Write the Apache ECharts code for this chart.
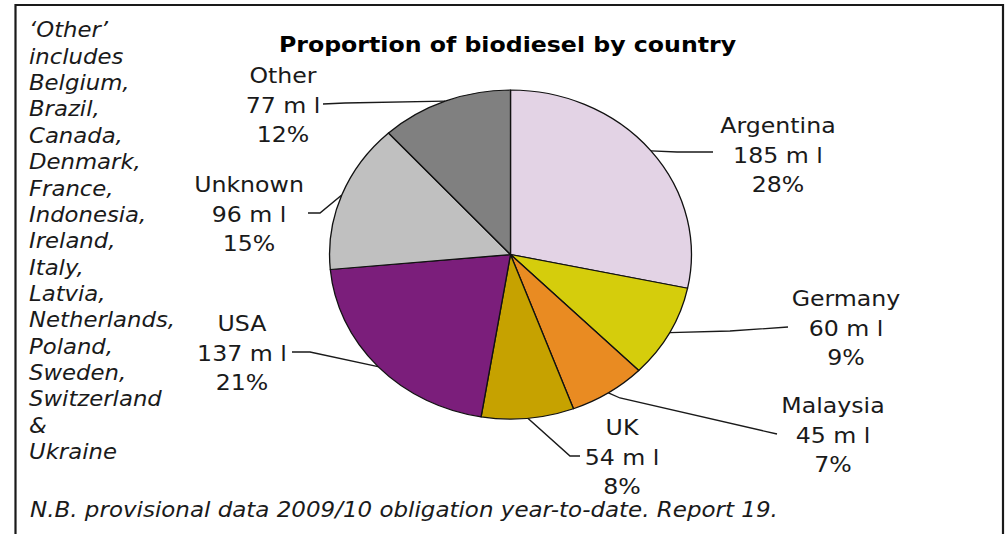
<!DOCTYPE html>
<html>
<head>
<meta charset="utf-8">
<script src="https://cdn.jsdelivr.net/npm/echarts@6/dist/echarts.min.js"></script>
<style>
html,body{margin:0;padding:0;background:#fff;overflow:hidden;}
#wrap{width:1007px;height:534px;overflow:hidden;position:relative;}
#chart{width:915.45px;height:534px;transform:scaleX(1.1);transform-origin:0 0;}
</style>
</head>
<body>
<div id="wrap"><div id="chart"></div></div>
<script>
// ---- data ----
const countries = ['Argentina', 'Germany', 'Malaysia', 'UK', 'USA', 'Unknown', 'Other'];
const volumes = [185, 60, 45, 54, 137, 96, 77]; // million litres
const colours = ['#E3D3E5', '#D5CD0C', '#E98B22', '#C6A200', '#7B1E7B', '#C0C0C0', '#808080'];
const titleText = 'Proportion of biodiesel by country';
const otherNote = ['\u2018Other\u2019', 'includes', 'Belgium,', 'Brazil,', 'Canada,', 'Denmark,', 'France,', 'Indonesia,',
  'Ireland,', 'Italy,', 'Latvia,', 'Netherlands,', 'Poland,', 'Sweden,', 'Switzerland', '&', 'Ukraine'];
const footNote = 'N.B. provisional data 2009/10 obligation year-to-date. Report 19.';

// ---- layout (image pixel coords; the chart is stretched horizontally by S) ----
const S = 1.1;
const FONT = '"DejaVu Sans", Verdana, sans-serif';
const labelAt = {
  Argentina: {c: [778, 155], knee: [677, 152], end: [713, 152]},
  Germany:   {c: [846, 328], knee: [730, 331], end: [788, 327]},
  Malaysia:  {c: [833, 435], knee: [620, 398], end: [777, 434]},
  UK:        {c: [622, 457], knee: [570, 456], end: [580, 456]},
  USA:       {c: [242, 353], knee: [310, 352], end: [292, 352]},
  Unknown:   {c: [249, 214], knee: [320, 213], end: [308, 213]},
  Other:     {c: [283, 105], knee: [345, 103], end: [323, 104]}
};
const P = (p) => [p[0] / S, p[1]];

const chart = echarts.init(document.getElementById('chart'), null, {renderer: 'svg'});
chart.setOption({
  animation: false,
  backgroundColor: '#fff',
  graphic: [
    {type: 'rect', shape: {x: 15.5 / S, y: 5, width: (1003 - 15.5) / S, height: 600},
      style: {fill: 'none', stroke: '#1a1a1a', lineWidth: 2}, silent: true},
    {type: 'text', x: 507.5 / S, y: 44,
      style: {text: titleText, font: 'bold 21.5px ' + FONT, fill: '#000', align: 'center', verticalAlign: 'middle'}},
    {type: 'text', x: 29 / S, y: 17.1,
      style: {text: otherNote.join('\n'), font: 'italic 20.7px ' + FONT, lineHeight: 26.36,
        fill: '#1a1a1a', align: 'left', verticalAlign: 'top'}},
    {type: 'text', x: 30 / S, y: 510,
      style: {text: footNote, font: 'italic 20.9px ' + FONT, fill: '#1a1a1a', align: 'left', verticalAlign: 'middle'}}
  ],
  series: [{
    type: 'pie',
    center: [510.5 / S, 254.5],
    radius: [0, 164.5],
    startAngle: 90,
    clockwise: true,
    percentPrecision: 0,
    avoidLabelOverlap: false,
    emphasis: {disabled: true},
    itemStyle: {borderColor: '#111', borderWidth: 1.2},
    label: {
      show: true, position: 'outside',
      formatter: '{b}\n{c} m l\n{d}%',
      fontFamily: FONT, fontSize: 21.5, lineHeight: 29.5, color: '#1a1a1a', align: 'center'
    },
    labelLine: {show: true, length: 20, length2: 20, lineStyle: {color: '#1a1a1a', width: 1.3}},
    labelLayout: function (params) {
      const name = countries[params.dataIndex];
      const L = labelAt[name];
      const pts = params.labelLinePoints || [];
      const start = pts[0] || P(L.knee);
      return {
        x: L.c[0] / S, y: L.c[1], align: 'center', verticalAlign: 'middle',
        labelLinePoints: [start, P(L.knee), P(L.end)]
      };
    },
    data: countries.map((n, i) => ({name: n, value: volumes[i], itemStyle: {color: colours[i]}}))
  }]
});
</script>
</body>
</html>
